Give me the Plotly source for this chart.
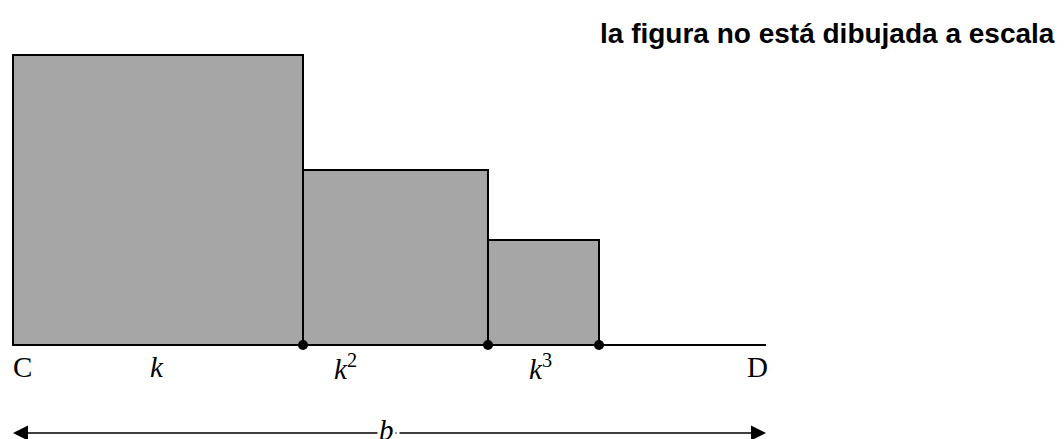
import plotly.graph_objects as go
import numpy as np

# base widths of the three rectangles (k, k^2, k^3) and drawn heights (not to scale)
widths = [290, 185, 111]
heights = [290, 175, 105]
seg_labels = ["<i>k</i>", "<i>k</i><sup>2</sup>", "<i>k</i><sup>3</sup>"]
label_x = [144, 332, 527]
line_end = 753
title_text = "<b>la figura no está dibujada a escala</b>"

left = np.concatenate([[0], np.cumsum(widths)[:-1]])
centers = left + np.array(widths) / 2
rights = np.cumsum(widths)

fig = go.Figure()
fig.add_trace(go.Bar(x=centers, y=heights, width=widths, base=0,
                     marker=dict(color="#a6a6a6", line=dict(color="black", width=2)),
                     hoverinfo="skip"))
# baseline C-D
fig.add_trace(go.Scatter(x=[0, line_end], y=[0, 0], mode="lines",
                         line=dict(color="black", width=2), hoverinfo="skip"))
# dots at joints
fig.add_trace(go.Scatter(x=rights, y=[0] * len(rights), mode="markers",
                         marker=dict(color="black", size=10), hoverinfo="skip"))

serif = dict(family="Liberation Serif, Times New Roman, serif", size=29, color="black")
ann = []
ann.append(dict(x=9, y=-22, text="C", showarrow=False, font=serif, xref="x", yref="y"))
ann.append(dict(x=line_end - 9, y=-22, text="D", showarrow=False, font=serif, xref="x", yref="y"))
for lx, lt in zip(label_x, seg_labels):
    ann.append(dict(x=lx, y=-22, text=lt, showarrow=False, font=serif, xref="x", yref="y"))

# double arrow b
arrow_y = -88
mid = 385
for end in [0, line_end]:
    ann.append(dict(x=end, y=arrow_y, ax=mid, ay=arrow_y, xref="x", yref="y",
                    axref="x", ayref="y", showarrow=True, arrowhead=2,
                    arrowsize=2, arrowwidth=1.5, arrowcolor="black", text=" ",
                    font=dict(size=1)))
ann.append(dict(x=373, y=arrow_y + 3, text="<i>b</i>", showarrow=False, font=serif,
                bgcolor="white", xref="x", yref="y"))
ann.append(dict(x=1044, y=312, xanchor="right", text=title_text, showarrow=False,
                font=dict(family="Liberation Sans, Arial, sans-serif", size=28, color="black"),
                xref="x", yref="y"))

fig.update_layout(
    width=1064, height=439,
    margin=dict(l=0, r=0, t=0, b=0),
    paper_bgcolor="white", plot_bgcolor="white",
    showlegend=False,
    annotations=ann,
    xaxis=dict(range=[-13, 1051], visible=False, fixedrange=True),
    yaxis=dict(range=[-94, 345], visible=False, fixedrange=True),
    bargap=0,
)
fig.write_html("out.html", config={"displayModeBar": False},
               post_script="document.body.style.margin='0';document.body.style.overflow='hidden';")
